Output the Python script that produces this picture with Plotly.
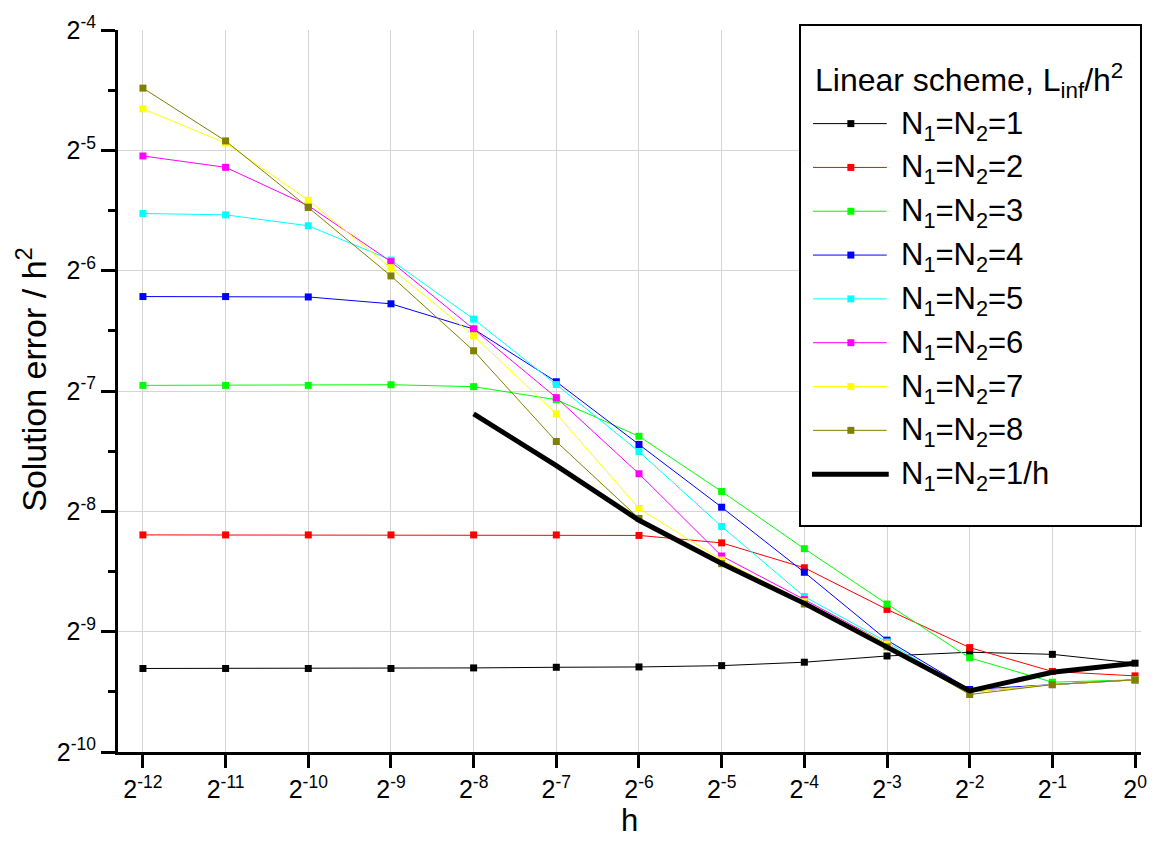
import math
import plotly.graph_objects as go

# Mesh size h (x axis) and tick labels
H = [1/4096, 1/2048, 1/1024, 1/512, 1/256, 1/128, 1/64, 1/32, 1/16, 1/8, 1/4, 1/2, 1]
H_LABELS = ["2<sup>-12</sup>", "2<sup>-11</sup>", "2<sup>-10</sup>", "2<sup>-9</sup>",
            "2<sup>-8</sup>", "2<sup>-7</sup>", "2<sup>-6</sup>", "2<sup>-5</sup>",
            "2<sup>-4</sup>", "2<sup>-3</sup>", "2<sup>-2</sup>", "2<sup>-1</sup>",
            "2<sup>0</sup>"]

# Solution error / h^2 (L_inf) for fixed N1=N2
err_n1 = [0.001580, 0.001580, 0.001580, 0.001580, 0.001585, 0.001591, 0.001594,
          0.001606, 0.001638, 0.001698, 0.001735, 0.001714, 0.001629]
err_n2 = [0.003410, 0.003410, 0.003410, 0.003410, 0.003410, 0.003410, 0.003400,
          0.003257, 0.002822, 0.002220, 0.001782, 0.001553, 0.001514]
err_n3 = [0.00807, 0.00807, 0.00807, 0.00810, 0.00801, 0.00743, 0.00602,
          0.00438, 0.00315, 0.00229, 0.00168, 0.00146, 0.00148]
err_n4 = [0.01346, 0.01346, 0.01343, 0.01291, 0.01116, 0.00824, 0.00574,
          0.00400, 0.00275, 0.00186, 0.00140, 0.00144, 0.00148]
err_n5 = [0.02172, 0.02155, 0.02024, 0.01661, 0.01182, 0.00811, 0.00551,
          0.00358, 0.00239, 0.00184, 0.00138, 0.00144, 0.00148]
err_n6 = [0.03025, 0.02834, 0.02273, 0.01646, 0.01116, 0.00752, 0.00485,
          0.00302, 0.00235, 0.00182, 0.00138, 0.00144, 0.00148]
err_n7 = [0.03969, 0.03260, 0.02345, 0.01590, 0.01074, 0.00685, 0.00397,
          0.00295, 0.00232, 0.00182, 0.00138, 0.00144, 0.00148]
err_n8 = [0.04472, 0.03299, 0.02248, 0.01516, 0.00985, 0.00584, 0.00375,
          0.00289, 0.00229, 0.00179, 0.00136, 0.00144, 0.00148]

# N1=N2=1/h, available from h = 2^-8 upward
H_INV = [1/256, 1/128, 1/64, 1/32, 1/16, 1/8, 1/4, 1/2, 1]
err_inv = [0.006848, 0.005084, 0.003711, 0.002891, 0.002299, 0.001792,
           0.001389, 0.001546, 0.001629]

# y axis ticks
Y_TICKS = [1/1024, 1/512, 1/256, 1/128, 1/64, 1/32, 1/16]
Y_LABELS = ["2<sup>-10</sup>", "2<sup>-9</sup>", "2<sup>-8</sup>", "2<sup>-7</sup>",
            "2<sup>-6</sup>", "2<sup>-5</sup>", "2<sup>-4</sup>"]
Y_MINOR = [2 ** (-k - 0.5) for k in range(4, 10)]

NAMES = ["N<sub>1</sub>=N<sub>2</sub>=%d" % k for k in range(1, 9)]
COLORS = ["#000000", "#FF0000", "#00FF00", "#0000FF",
          "#00FFFF", "#FF00FF", "#FFFF00", "#808000"]
SERIES = [err_n1, err_n2, err_n3, err_n4, err_n5, err_n6, err_n7, err_n8]
NAME_INV = "N<sub>1</sub>=N<sub>2</sub>=1/h"
LEGEND_TITLE = "Linear scheme, L<sub>inf</sub>/h<sup>2</sup>"
Y_TITLE = "Solution error / h<sup>2</sup>"

FONT = "Liberation Sans, Arial, sans-serif"
W, HGT = 1159, 842
ML, MR, MT, MB = 118, 15, 29, 88

fig = go.Figure()
for name, color, vals in zip(NAMES, COLORS, SERIES):
    fig.add_trace(go.Scatter(
        x=H, y=vals, mode="lines+markers", name=name,
        line=dict(color=color, width=1),
        marker=dict(symbol="square", size=7, color=color, line=dict(width=0)),
        showlegend=False,
    ))
fig.add_trace(go.Scatter(
    x=H_INV, y=err_inv, mode="lines", name=NAME_INV,
    line=dict(color="#000000", width=5), showlegend=False,
))

# ---- hand-placed legend box (pixel layout -> paper coordinates) ----
PW = W - ML - MR
PH = HGT - MT - MB


def px(x):
    return (x - ML) / PW


def py(y):
    return (HGT - MB - y) / PH


shapes = [dict(type="rect", xref="paper", yref="paper",
               x0=px(802), x1=px(1144), y0=py(527), y1=py(24),
               line=dict(color="black", width=2), fillcolor="white",
               layer="above")]
annotations = [dict(text=LEGEND_TITLE, xref="paper", yref="paper",
                    x=px(815), y=py(80), xanchor="left", yanchor="middle",
                    showarrow=False, font=dict(size=32, color="black", family=FONT))]

row_y = [123 + 44 * i for i in range(9)]
for i, (name, color) in enumerate(zip(NAMES, COLORS)):
    yc = row_y[i]
    shapes.append(dict(type="line", xref="paper", yref="paper",
                       x0=px(815), x1=px(889), y0=py(yc), y1=py(yc),
                       line=dict(color=color, width=1), layer="above"))
    shapes.append(dict(type="rect", xref="paper", yref="paper",
                       x0=px(849.5), x1=px(856.5), y0=py(yc + 3.5), y1=py(yc - 3.5),
                       line=dict(width=0), fillcolor=color, layer="above"))
    annotations.append(dict(text=name, xref="paper", yref="paper",
                            x=px(901), y=py(yc + 2), xanchor="left", yanchor="middle",
                            showarrow=False,
                            font=dict(size=31, color="black", family=FONT)))
yc = row_y[8]
shapes.append(dict(type="line", xref="paper", yref="paper",
                   x0=px(814), x1=px(891), y0=py(yc), y1=py(yc),
                   line=dict(color="black", width=5), layer="above"))
annotations.append(dict(text=NAME_INV, xref="paper", yref="paper",
                        x=px(901), y=py(yc + 2), xanchor="left", yanchor="middle",
                        showarrow=False, font=dict(size=31, color="black", family=FONT)))

# y axis title, rotated
annotations.append(dict(text=Y_TITLE, xref="paper", yref="paper",
                        x=px(31), y=py(380), xanchor="center", yanchor="middle",
                        textangle=-90, showarrow=False,
                        font=dict(size=34, color="black", family=FONT)))

LOG2 = math.log10(2)
fig.update_layout(
    width=W, height=HGT,
    margin=dict(l=ML, r=MR, t=MT, b=MB),
    paper_bgcolor="white", plot_bgcolor="white",
    font=dict(family=FONT, color="black"),
    shapes=shapes, annotations=annotations,
    xaxis=dict(
        type="log", range=[-12.3015 * LOG2, 0.072 * LOG2],
        tickmode="array", tickvals=H, ticktext=H_LABELS,
        ticks="outside", ticklen=13, tickwidth=3, tickcolor="black",
        showline=True, linewidth=3, linecolor="black",
        showgrid=True, gridcolor="#d4d4d4", gridwidth=1, zeroline=False,
        tickfont=dict(size=25, family=FONT, color="black"),
        title=dict(text="h", font=dict(size=31, family=FONT, color="black"), standoff=5),
    ),
    yaxis=dict(
        type="log", range=[-10 * LOG2, -4 * LOG2],
        tickmode="array", tickvals=Y_TICKS, ticktext=Y_LABELS,
        ticks="outside", ticklen=14, tickwidth=3, tickcolor="black",
        minor=dict(tickmode="array", tickvals=Y_MINOR, ticks="outside",
                   ticklen=7, tickwidth=3, tickcolor="black", showgrid=False),
        showline=True, linewidth=3, linecolor="black",
        showgrid=True, gridcolor="#d4d4d4", gridwidth=1, zeroline=False,
        tickfont=dict(size=25, family=FONT, color="black"),
    ),
)

fig.write_html("out.html")
